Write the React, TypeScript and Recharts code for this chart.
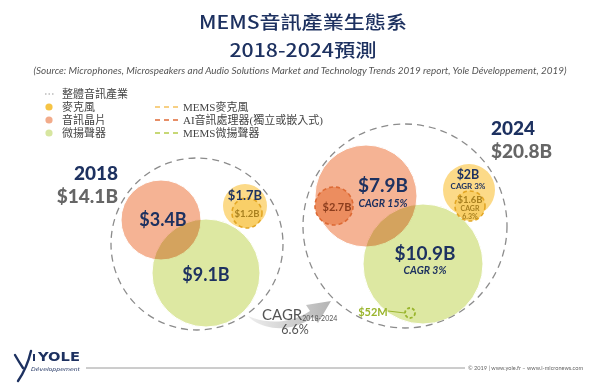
import React from 'react';
import { ScatterChart, Scatter, XAxis, YAxis, ZAxis } from 'recharts';

const W = 600;
const H = 387;
const NAVY = '#1d3160';

// --- data (layout units: 0..600 across, 0..387 down; r = bubble radius) ---
const years = ['2018', '2024'];
const yearTotals = ['$14.1B', '$20.8B'];
const overallCagr = '6.6%';
const cagrPeriod = '2018-2024';

const industry = [
  { year: '2018', x: 197, y: 244, r: 86, value: '$14.1B', cagr: '' },
  { year: '2024', x: 405, y: 226, r: 102, value: '$20.8B', cagr: '' },
];
const audioChips = [
  { year: '2018', x: 161, y: 220, r: 40, value: '$3.4B', cagr: '' },
  { year: '2024', x: 366, y: 196, r: 51, value: '$7.9B', cagr: 'CAGR 15%' },
];
const microspeakers = [
  { year: '2018', x: 206, y: 273, r: 54, value: '$9.1B', cagr: '' },
  { year: '2024', x: 423, y: 264, r: 60, value: '$10.9B', cagr: 'CAGR 3%' },
];
const microphones = [
  { year: '2018', x: 245, y: 206, r: 22, value: '$1.7B', cagr: '' },
  { year: '2024', x: 469, y: 190, r: 26, value: '$2B', cagr: 'CAGR 3%' },
];
const memsMics = [
  { year: '2018', x: 247, y: 213, r: 15, value: '$1.2B', cagr: '' },
  { year: '2024', x: 470, y: 206, r: 15, value: '$1.6B', cagr: 'CAGR\n6.3%' },
];
const aiProcessors = [
  { year: '2024', x: 334, y: 206, r: 19, value: '$2.7B', cagr: '' },
];
const memsSpeakers = [
  { year: '2024', x: 410, y: 313, r: 5, value: '$52M', cagr: '' },
];

const legendMarkets = ['整體音訊產業', '麥克風', '音訊晶片', '微揚聲器'];
const legendMems = ['MEMS麥克風', 'AI音訊處理器(獨立或嵌入式)', 'MEMS微揚聲器'];

// --- styles ---
type BubbleStyle = { fill: string; stroke: string; sw: number; dash?: string; blend?: boolean };
const bubbleStyle: Record<string, BubbleStyle> = {
  industry: { fill: 'none', stroke: '#8c8c8c', sw: 1.3, dash: '7 5' },
  chips: { fill: '#f5b394', stroke: '#ffffff', sw: 1 },
  speakers: { fill: '#dde8a2', stroke: '#ffffff', sw: 1, blend: true },
  mics: { fill: '#fcda88', stroke: 'none', sw: 0 },
  memsMics: { fill: '#f9cf68', stroke: '#e3a624', sw: 1.6, dash: '4 3' },
  ai: { fill: '#ec8d5f', stroke: '#dd6a34', sw: 1.6, dash: '4 3' },
  memsSpk: { fill: 'none', stroke: '#9ab52d', sw: 1.8, dash: '3 2' },
};

type LabelStyle = {
  color: string; size: number[]; sub: number; dx: number[]; dy: number[];
  gap: number; step: number; italic?: boolean; lead?: boolean;
};
const labelStyle: Record<string, LabelStyle> = {
  chips: { color: NAVY, size: [18, 19], sub: 10.5, dx: [2, 17], dy: [-1, -12], gap: 19, step: 0, italic: true },
  speakers: { color: NAVY, size: [18, 19], sub: 10.5, dx: [0, 2], dy: [1, -12], gap: 18, step: 0, italic: true },
  mics: { color: NAVY, size: [13, 12.5], sub: 8, dx: [0, -1], dy: [-11, -16], gap: 12, step: 0 },
  memsMics: { color: '#a8801f', size: [9.5, 9.5], sub: 7, dx: [0, 0], dy: [0, -7], gap: 9, step: 7.5 },
  ai: { color: '#8b3d1d', size: [11, 11], sub: 8, dx: [3, 3], dy: [0, 0], gap: 10, step: 0 },
  memsSpk: { color: '#9ab52d', size: [11, 11], sub: 8, dx: [-37, -37], dy: [-2, -2], gap: 10, step: 0, lead: true },
};

const bubble = (s: BubbleStyle) => (p: any) => {
  const r = typeof p.size === 'number' ? p.size : p.payload.r;
  return (
    <circle
      cx={p.cx}
      cy={p.cy}
      r={r}
      fill={s.fill}
      stroke={s.stroke}
      strokeWidth={s.sw}
      strokeDasharray={s.dash}
      style={s.blend ? { mixBlendMode: 'multiply' } : undefined}
    />
  );
};

const label = (s: LabelStyle) => (p: any) => {
  const yi = years.indexOf(p.payload.year);
  const fs = s.size[yi];
  const x = p.cx + s.dx[yi];
  const y = p.cy + s.dy[yi];
  const subs = p.payload.cagr ? String(p.payload.cagr).split('\n') : [];
  return (
    <g>
      {s.lead && (
        <line x1={p.cx - 22} y1={y} x2={p.cx - 5} y2={p.cy} stroke={s.color} strokeWidth={1} />
      )}
      <text x={x} y={y} textAnchor="middle" dominantBaseline="central"
        fontFamily="Lato, 'Noto Sans', sans-serif" fontWeight={700} fontSize={fs} fill={s.color}>
        {p.payload.value}
      </text>
      {subs.map((t: string, k: number) => (
        <text key={k} x={x} y={y + s.gap + k * s.step} textAnchor="middle" dominantBaseline="central"
          fontFamily="Lato, 'Noto Sans', sans-serif" fontWeight={700} fontStyle={s.italic ? 'italic' : 'normal'}
          fontSize={s.sub} fill={s.color}>
          {t}
        </text>
      ))}
    </g>
  );
};

const series: [string, any[]][] = [
  ['industry', industry],
  ['chips', audioChips],
  ['speakers', microspeakers],
  ['mics', microphones],
  ['memsMics', memsMics],
  ['ai', aiProcessors],
  ['memsSpk', memsSpeakers],
];

const Legend = () => {
  const rowY = [94, 107, 120, 133];
  const dotColors = ['', '#f6c445', '#f2ab8a', '#d7e6a0'];
  const dashColors = ['#f5c15c', '#e06a35', '#b5cc4a'];
  const font = "'Liberation Serif', 'Noto Sans CJK TC', serif";
  return (
    <g fontFamily={font} fontSize={11} fill="#444">
      {legendMarkets.map((t, i) => (
        <g key={t}>
          {i === 0 ? (
            <line x1={45} x2={54} y1={rowY[i]} y2={rowY[i]} stroke="#999" strokeWidth={1.2} strokeDasharray="1.5 2" />
          ) : (
            <circle cx={49} cy={rowY[i]} r={3.6} fill={dotColors[i]} />
          )}
          <text x={62} y={rowY[i]} dominantBaseline="central">{t}</text>
        </g>
      ))}
      {legendMems.map((t, i) => (
        <g key={t}>
          <line x1={155} x2={178} y1={rowY[i + 1]} y2={rowY[i + 1]} stroke={dashColors[i]} strokeWidth={1.6} strokeDasharray="5 4" />
          <text x={183} y={rowY[i + 1]} dominantBaseline="central">{t}</text>
        </g>
      ))}
    </g>
  );
};

const Overlay = () => (
  <svg width={W} height={H} style={{ position: 'absolute', left: 0, top: 0, pointerEvents: 'none' }}>
    <defs>
      <linearGradient id="arrowFill" x1="0" y1="0" x2="1" y2="0">
        <stop offset="0%" stopColor="#eeeeee" />
        <stop offset="100%" stopColor="#b4b4b4" />
      </linearGradient>
    </defs>
    <g fontFamily="'Noto Sans CJK TC', 'Noto Sans', sans-serif" fill={NAVY} fontWeight={500} textAnchor="middle">
      <text x={303} y={21} fontSize={18} dominantBaseline="central" textLength={208} lengthAdjust="spacingAndGlyphs">MEMS音訊產業生態系</text>
      <text x={303} y={49} fontSize={18} dominantBaseline="central" textLength={147} lengthAdjust="spacingAndGlyphs">{`${years[0]}-${years[1]}預測`}</text>
    </g>
    <text x={300} y={70} textAnchor="middle" dominantBaseline="central" fontFamily="Lato, sans-serif" fontStyle="italic"
      fontSize={9} fill="#555" textLength={533} lengthAdjust="spacingAndGlyphs">
      (Source: Microphones, Microspeakers and Audio Solutions Market and Technology Trends 2019 report, Yole Développement, 2019)
    </text>
    <Legend />
    <g fontFamily="Lato, sans-serif" fontWeight={900} fontSize={19}>
      <text x={118} y={172} textAnchor="end" dominantBaseline="central" fill={NAVY}>{years[0]}</text>
      <text x={118} y={195} textAnchor="end" dominantBaseline="central" fill="#666">{yearTotals[0]}</text>
      <text x={491} y={127} dominantBaseline="central" fill={NAVY}>{years[1]}</text>
      <text x={491} y={150} dominantBaseline="central" fill="#666">{yearTotals[1]}</text>
    </g>
    <path d="M 248 316 C 262 331, 292 333, 313 317 L 318 323 L 331 301 L 306 305 L 310 311 C 292 323, 268 325, 248 316 Z"
      fill="url(#arrowFill)" />
    <g fontFamily="Lato, sans-serif" fill="#555">
      <text x={262} y={314} fontSize={15} dominantBaseline="central">CAGR
        <tspan fontSize={7} dy={4}>{cagrPeriod}</tspan>
      </text>
      <text x={295} y={329} fontSize={12.5} textAnchor="middle" dominantBaseline="central">{overallCagr}</text>
    </g>
    <g>
      <path d="M 15 355 Q 19 362 23 368" stroke={NAVY} strokeWidth={2.4} fill="none" strokeLinecap="round" />
      <path d="M 31 351 Q 27 368 18 381" stroke={NAVY} strokeWidth={2.4} fill="none" strokeLinecap="round" />
      <rect x={33} y={354} width={2} height={7} fill={NAVY} />
      <text x={38} y={357} fontFamily="'DejaVu Sans', sans-serif" fontWeight={700} fontSize={12} fill={NAVY}
        dominantBaseline="central" textLength={42} lengthAdjust="spacingAndGlyphs">YOLE</text>
      <text x={31} y={369} fontFamily="'DejaVu Sans', sans-serif" fontStyle="italic" fontSize={5} fill={NAVY}
        dominantBaseline="central" textLength={49} lengthAdjust="spacingAndGlyphs">Développement</text>
      <line x1={86} x2={465} y1={368} y2={368} stroke="#9a9a9a" strokeWidth={1} />
      <text x={468} y={368} fontFamily="Lato, sans-serif" fontSize={5.5} fill="#666" dominantBaseline="central"
        textLength={115} lengthAdjust="spacingAndGlyphs">© 2019 | www.yole.fr – www.i-micronews.com</text>
    </g>
  </svg>
);

export default function App() {
  return (
    <div style={{ position: 'absolute', left: 0, top: 0, width: W, height: H, background: '#fff' }}>
      <ScatterChart width={W} height={H} margin={{ top: 0, right: 0, bottom: 0, left: 0 }}>
        <XAxis type="number" dataKey="x" domain={[0, W]} hide />
        <YAxis type="number" dataKey="y" domain={[0, H]} reversed hide />
        <ZAxis type="number" dataKey="r" domain={[0, 120]} range={[0, 120]} />
        {series.map(([key, data]) => (
          <Scatter key={key} name={key} data={data} shape={bubble(bubbleStyle[key])} isAnimationActive={false} />
        ))}
        {series.filter(([key]) => key !== 'industry').map(([key, data]) => (
          <Scatter key={`${key}-label`} data={data} shape={label(labelStyle[key])} isAnimationActive={false} />
        ))}
      </ScatterChart>
      <Overlay />
    </div>
  );
}
